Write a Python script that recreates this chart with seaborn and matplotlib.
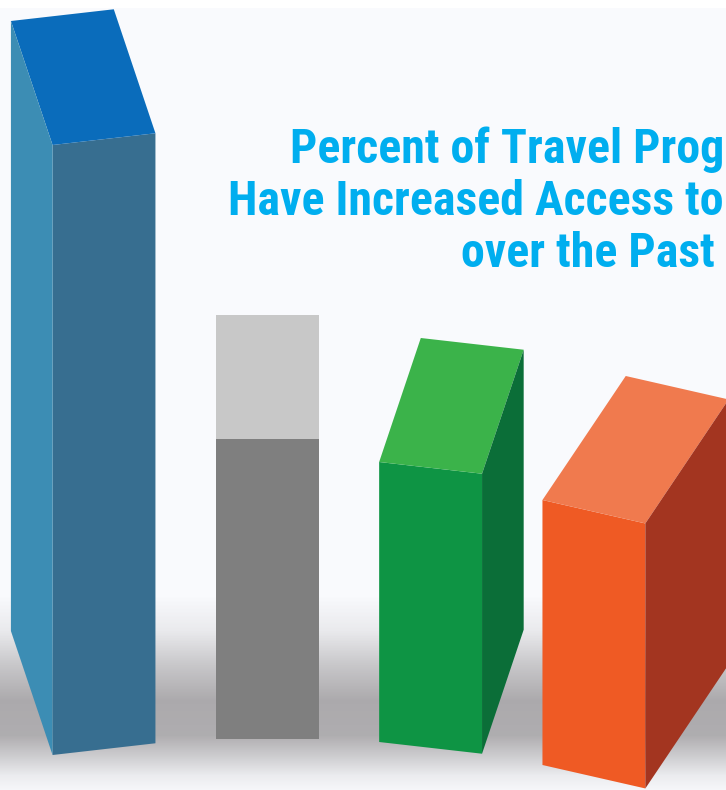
import numpy as np
import matplotlib
matplotlib.use("Agg")
import matplotlib.pyplot as plt
import seaborn as sns
from matplotlib.transforms import Affine2D
from matplotlib import font_manager as fm

# ---------------- data ----------------
categories = ["Group 1", "Group 2", "Group 3", "Group 4"]
values = [61, 30, 28, 26.5]
title_lines = ["Percent of Travel Prog", "Have Increased Access to", "over the Past"]

# ---------------- style ----------------
front_colors = ["#376E90", "#7F7F7F", "#0E9444", "#EF5A24"]
top_colors = ["#0A6CBB", "#C8C8C8", "#3BB34A", "#F07A4E"]
side_colors = ["#3C8DB4", "#9A9A9A", "#0B6E38", "#A33520"]
floor_shift = [0.0, 1.6, 1.3, -1.0]   # perspective offset of each footprint
BG = "#F9FAFD"
TITLE_COLOR = "#00AEEF"

W_PX, H_PX = 726, 790
X_UNIT = 163.3      # px per category step
Y_UNIT = 10.0       # px per value unit
BASE_PX = 755       # pixel row of value 0
FIRST_CENTER_PX = 104
VIEW_C = 1.0        # category seen head-on
DEPTH_X = 0.255     # horizontal depth per category away from view centre
DEPTH_Y = 12.4      # vertical depth (value units)
SHEAR = 0.114       # pixel slope of front edges per category step


def _weight(f):
    w = f.weight
    if isinstance(w, str):
        w = fm.weight_dict.get(w, 400)
    return w


def pick_title_font():
    entries = [f for f in fm.fontManager.ttflist if _weight(f) >= 600]
    prefs = ["Liberation Sans Narrow", "Roboto Condensed", "Open Sans Condensed",
             "Noto Sans Condensed", "DejaVu Sans Condensed", "Arial Narrow"]
    for pname in prefs:
        for f in entries:
            if f.name == pname:
                return fm.FontProperties(fname=f.fname)
    for f in entries:
        if ("Condensed" in f.name or "Narrow" in f.name or
                str(f.stretch) in ("condensed", "semi-condensed", "extra-condensed")):
            if "Mono" not in f.name and "Serif" not in f.name:
                return fm.FontProperties(fname=f.fname)
    for pname in ["Roboto", "Liberation Sans", "DejaVu Sans"]:
        for f in entries:
            if f.name == pname and f.style == "normal":
                return fm.FontProperties(fname=f.fname)
    return fm.FontProperties(family="DejaVu Sans", weight="bold")


fig = plt.figure(figsize=(W_PX / 100, H_PX / 100), dpi=100)
fig.patch.set_facecolor(BG)
ax = fig.add_axes([0, 0, 1, 1])
ax.set_facecolor(BG)

sns.barplot(x=categories, y=values, hue=categories, palette=front_colors,
            saturation=1, width=0.63, errorbar=None, legend=False,
            linewidth=0, ax=ax, zorder=3)

x0 = -FIRST_CENTER_PX / X_UNIT
ax.set_xlim(x0, x0 + W_PX / X_UNIT)
ax.set_ylim(-(H_PX - BASE_PX) / Y_UNIT, BASE_PX / Y_UNIT)
ax.axis("off")

# soft shadow band behind the bars
rows = np.arange(H_PX)
alpha_rows = np.interp(rows, [595, 630, 665, 700, 735, 758, 775, 790],
                       [0.0, 0.10, 0.32, 0.50, 0.48, 0.26, 0.09, 0.02])
img = np.zeros((H_PX, W_PX, 4))
img[..., 0] = 0.37
img[..., 1] = 0.35
img[..., 2] = 0.36
img[..., 3] = alpha_rows[:, None]
xl_, xr_ = ax.get_xlim()
yb_, yt_ = ax.get_ylim()
ax.imshow(img, extent=(xl_, xr_, yb_, yt_), aspect="auto", zorder=1,
          interpolation="bilinear")
ax.set_xlim(xl_, xr_)
ax.set_ylim(yb_, yt_)
# white strip at the very top
ax.axhspan(yt_ - 0.8, yt_, color="white", lw=0, zorder=0.5)

bars = sorted(ax.patches, key=lambda p: p.get_x())
bars = [b for b in bars if b.get_width() < 1]
for i, p in enumerate(bars):
    xl = p.get_x()
    w = p.get_width()
    h = p.get_height()
    c = xl + w / 2
    y0 = floor_shift[i]
    p.set_y(y0)
    m = -SHEAR * (c - VIEW_C) * X_UNIT / Y_UNIT   # slope in data units
    p.set_transform(Affine2D().from_values(1, m, 0, 1, 0, -m * xl) + ax.transData)
    xr = xl + w
    fl_b = np.array([xl, y0])
    fr_b = np.array([xr, y0 + m * w])
    fl_t = np.array([xl, y0 + h])
    fr_t = np.array([xr, y0 + h + m * w])
    d = np.array([DEPTH_X * (c - VIEW_C), DEPTH_Y])
    top = np.array([fl_t, fr_t, fr_t + d, fl_t + d])
    ax.fill(top[:, 0], top[:, 1], color=top_colors[i], lw=0, zorder=3)
    side = None
    if d[0] < -1e-6:
        side = np.array([fl_b, fl_t, fl_t + d, fl_b + d])
    elif d[0] > 1e-6:
        side = np.array([fr_b, fr_t, fr_t + d, fr_b + d])
    if side is not None:
        ax.fill(side[:, 0], side[:, 1], color=side_colors[i], lw=0, zorder=3)

# ---------------- title (cropped in the reference) ----------------
fp = pick_title_font()
base_size = 38
title_base = [163, 215, 267]
targets = [434, 505, 262]     # visible widths in the reference (px)
texts = []
for txt, ty in zip(title_lines, title_base):
    t = fig.text(0.5, 1 - ty / H_PX, txt, ha="right", va="baseline",
                 fontproperties=fp, fontsize=base_size, color=TITLE_COLOR,
                 zorder=5)
    texts.append(t)
fig.canvas.draw()
r = fig.canvas.get_renderer()
widths = [t.get_window_extent(r).width for t in texts]
scale = min(tw / w for tw, w in zip(targets, widths))
size = min(base_size, base_size * scale)
for t in texts:
    t.set_fontsize(size)
texts[0].set_x(724 / W_PX)
texts[1].set_x(724 / W_PX)
texts[2].set_ha("center")
texts[2].set_x(588 / W_PX)

fig.savefig("out.png", dpi=100, facecolor=BG)
